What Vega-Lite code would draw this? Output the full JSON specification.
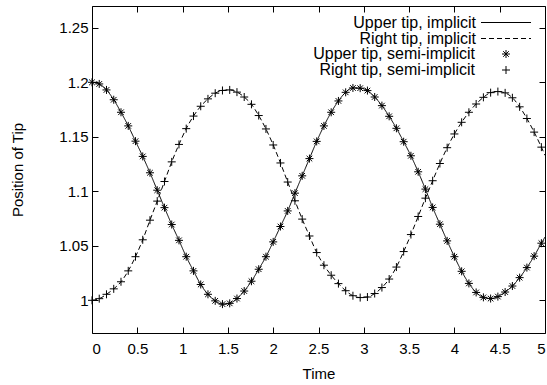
{
  "$schema": "https://vega.github.io/schema/vega-lite/v6.json",
  "width": 453,
  "height": 327,
  "autosize": {"type": "none"},
  "padding": {"left": 92, "top": 6, "right": 2, "bottom": 52},
  "background": "white",
  "config": {
    "font": "Liberation Sans",
    "view": {"stroke": "black", "strokeWidth": 1},
    "axis": {
      "grid": false,
      "domain": false,
      "tickSize": -6,
      "tickColor": "black",
      "tickWidth": 1,
      "labelFont": "Liberation Sans",
      "labelFontSize": 15,
      "labelColor": "black",
      "titleFont": "Liberation Sans",
      "titleFontSize": 15,
      "titleFontWeight": "normal",
      "titleColor": "black"
    },
    "legend": {
      "labelFont": "Liberation Sans",
      "labelFontSize": 16,
      "labelColor": "black",
      "labelLimit": 400,
      "padding": 0,
      "rowPadding": 0
    }
  },
  "data": {
    "values": [
      {"t": 0, "upper": 1.2, "right": 1.0},
      {"t": 0.08, "upper": 1.1985, "right": 1.0015},
      {"t": 0.16, "upper": 1.193, "right": 1.0055},
      {"t": 0.24, "upper": 1.184, "right": 1.0105},
      {"t": 0.32, "upper": 1.1725, "right": 1.017},
      {"t": 0.4, "upper": 1.16, "right": 1.027},
      {"t": 0.48, "upper": 1.146, "right": 1.04},
      {"t": 0.56, "upper": 1.132, "right": 1.0555},
      {"t": 0.64, "upper": 1.117, "right": 1.0735},
      {"t": 0.72, "upper": 1.101, "right": 1.091},
      {"t": 0.8, "upper": 1.085, "right": 1.109},
      {"t": 0.88, "upper": 1.0695, "right": 1.127},
      {"t": 0.96, "upper": 1.055, "right": 1.143},
      {"t": 1.04, "upper": 1.04, "right": 1.1575},
      {"t": 1.12, "upper": 1.027, "right": 1.169},
      {"t": 1.2, "upper": 1.0145, "right": 1.178},
      {"t": 1.28, "upper": 1.0055, "right": 1.1848},
      {"t": 1.36, "upper": 0.9995, "right": 1.19},
      {"t": 1.44, "upper": 0.9965, "right": 1.1925},
      {"t": 1.52, "upper": 0.9972, "right": 1.193},
      {"t": 1.6, "upper": 1.0016, "right": 1.191},
      {"t": 1.68, "upper": 1.0085, "right": 1.1865},
      {"t": 1.76, "upper": 1.0175, "right": 1.1798},
      {"t": 1.84, "upper": 1.0285, "right": 1.1695},
      {"t": 1.92, "upper": 1.04, "right": 1.1572},
      {"t": 2.0, "upper": 1.0536, "right": 1.1425},
      {"t": 2.08, "upper": 1.0677, "right": 1.126},
      {"t": 2.16, "upper": 1.082, "right": 1.1085},
      {"t": 2.24, "upper": 1.0983, "right": 1.0913},
      {"t": 2.32, "upper": 1.1142, "right": 1.0745},
      {"t": 2.4, "upper": 1.13, "right": 1.059},
      {"t": 2.48, "upper": 1.1458, "right": 1.0438},
      {"t": 2.56, "upper": 1.16, "right": 1.0322},
      {"t": 2.64, "upper": 1.1725, "right": 1.023},
      {"t": 2.72, "upper": 1.1829, "right": 1.0153},
      {"t": 2.8, "upper": 1.1908, "right": 1.0088},
      {"t": 2.88, "upper": 1.1948, "right": 1.0042},
      {"t": 2.96, "upper": 1.1946, "right": 1.0025},
      {"t": 3.04, "upper": 1.1924, "right": 1.003},
      {"t": 3.12, "upper": 1.1865, "right": 1.0062},
      {"t": 3.2, "upper": 1.1786, "right": 1.0117},
      {"t": 3.28, "upper": 1.1688, "right": 1.0195},
      {"t": 3.36, "upper": 1.1578, "right": 1.0305},
      {"t": 3.44, "upper": 1.1455, "right": 1.0447},
      {"t": 3.52, "upper": 1.1326, "right": 1.0603},
      {"t": 3.6, "upper": 1.1179, "right": 1.0769},
      {"t": 3.68, "upper": 1.102, "right": 1.0937},
      {"t": 3.76, "upper": 1.0852, "right": 1.1097},
      {"t": 3.84, "upper": 1.0698, "right": 1.1255},
      {"t": 3.92, "upper": 1.0545, "right": 1.14},
      {"t": 4.0, "upper": 1.04, "right": 1.1526},
      {"t": 4.08, "upper": 1.0266, "right": 1.1633},
      {"t": 4.16, "upper": 1.0155, "right": 1.1725},
      {"t": 4.24, "upper": 1.0072, "right": 1.1801},
      {"t": 4.32, "upper": 1.0027, "right": 1.1862},
      {"t": 4.4, "upper": 1.0016, "right": 1.1905},
      {"t": 4.48, "upper": 1.0034, "right": 1.1915},
      {"t": 4.56, "upper": 1.0076, "right": 1.1903},
      {"t": 4.64, "upper": 1.0131, "right": 1.1858},
      {"t": 4.72, "upper": 1.0208, "right": 1.1775},
      {"t": 4.8, "upper": 1.03, "right": 1.1668},
      {"t": 4.88, "upper": 1.0405, "right": 1.1543},
      {"t": 4.96, "upper": 1.0524, "right": 1.1405},
      {"t": 5.0, "upper": 1.058, "right": 1.133}
    ]
  },
  "transform": [{"fold": ["upper", "right"], "as": ["tip", "pos"]}],
  "layer": [
    {
      "mark": {"type": "line", "color": "black", "strokeWidth": 1, "interpolate": "monotone"},
      "encoding": {
        "x": {
          "field": "t", "type": "quantitative",
          "scale": {"domain": [0, 5], "nice": false},
          "axis": {"orient": "bottom", "title": "Time", "values": [0, 0.5, 1, 1.5, 2, 2.5, 3, 3.5, 4, 4.5, 5], "format": "~g", "labelPadding": 14, "titlePadding": 10}
        },
        "y": {
          "field": "pos", "type": "quantitative",
          "scale": {"domain": [0.97, 1.27], "nice": false, "zero": false},
          "axis": {"orient": "left", "title": "Position of Tip", "values": [1, 1.05, 1.1, 1.15, 1.2, 1.25], "format": "~g", "labelPadding": 10, "titlePadding": 33}
        },
        "strokeDash": {
          "field": "tip", "type": "nominal", "sort": "descending",
          "scale": {"range": [[1, 0], [5, 3]]},
          "legend": {
            "orient": "none", "legendX": 406, "legendY": 8.5, "title": null,
            "symbolType": "M-6.25,0H6.25", "symbolSize": 64,
            "symbolStrokeColor": "black", "symbolStrokeWidth": 1,
            "labelAlign": "right", "labelOffset": -38,
            "labelExpr": "datum.value == 'upper' ? 'Upper tip, implicit' : 'Right tip, implicit'"
          }
        }
      }
    },
    {
      "transform": [{"filter": "datum.t < 4.99"}],
      "mark": {"type": "point", "color": "black", "filled": false, "strokeWidth": 1, "size": 64, "opacity": 1},
      "encoding": {
        "x": {
          "field": "t", "type": "quantitative",
          "axis": {"orient": "top", "labels": false, "title": null, "values": [0, 0.5, 1, 1.5, 2, 2.5, 3, 3.5, 4, 4.5, 5]}
        },
        "y": {
          "field": "pos", "type": "quantitative",
          "axis": {"orient": "right", "labels": false, "title": null, "values": [1, 1.05, 1.1, 1.15, 1.2, 1.25]}
        },
        "shape": {
          "field": "tip", "type": "nominal",
          "scale": {"domain": ["upper", "right"], "range": ["M-1,0L1,0M0,-1L0,1M-0.7,-0.7L0.7,0.7M-0.7,0.7L0.7,-0.7", "M-1,0L1,0M0,-1L0,1"]},
          "legend": {
            "orient": "none", "legendX": 406, "legendY": 40, "title": null,
            "symbolSize": 64, "symbolStrokeColor": "black", "symbolFillColor": "transparent", "symbolStrokeWidth": 1,
            "labelAlign": "right", "labelOffset": -39,
            "labelExpr": "datum.value == 'upper' ? 'Upper tip, semi-implicit' : 'Right tip, semi-implicit'"
          }
        }
      }
    }
  ],
  "resolve": {"axis": {"x": "independent", "y": "independent"}}
}
